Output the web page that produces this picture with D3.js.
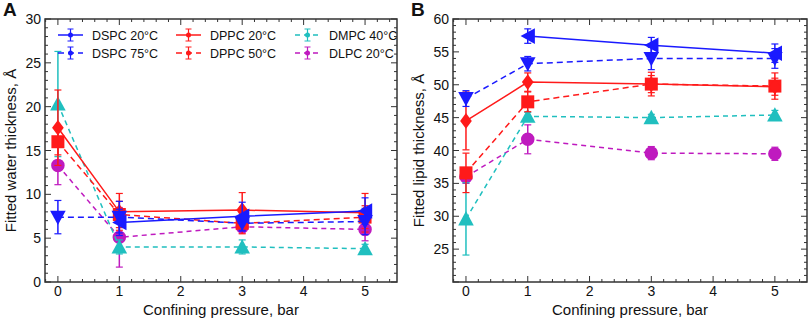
<!DOCTYPE html>
<html><head><meta charset="utf-8">
<script src="https://cdn.jsdelivr.net/npm/d3@7"></script>
<style>body{margin:0;background:#fff}svg{display:block;font-family:Arial,"Liberation Sans",sans-serif}</style>
</head><body><svg id="c" width="809" height="319"></svg>
<script>
const pressures = [0, 1, 3, 5];
const seriesNames = ["DSPC 20\u00B0C", "DSPC 75\u00B0C", "DPPC 20\u00B0C", "DPPC 50\u00B0C", "DMPC 40\u00B0C", "DLPC 20\u00B0C"];
// Panel A: fitted water thickness (Å)
const waterDSPC20 = [null, 6.8, 7.5, 8.1];
const waterDSPC75 = [7.4, 7.4, 6.7, 6.9];
const waterDPPC20 = [17.6, 8.0, 8.2, 7.9];
const waterDPPC50 = [16.0, 7.7, 6.7, 7.4];
const waterDMPC40 = [20.3, 4.0, 4.0, 3.8];
const waterDLPC20 = [13.3, 5.1, 6.3, 6.0];
const waterErrDSPC20 = [null, 1.5, 1.6, 1.5];
const waterErrDSPC75 = [1.9, 1.8, 0.9, 1.5];
const waterErrDPPC20 = [4.3, 2.1, 2.0, 2.2];
const waterErrDPPC50 = [1.5, 1.5, 1.2, 1.3];
const waterErrDMPC40 = [6.0, 0.8, 0.8, 0.5];
const waterErrDLPC20 = [2.2, 3.4, 0.7, 1.3];
// Panel B: fitted lipid thickness (Å)
const lipidDSPC20 = [null, 57.4, 56.0, 54.8];
const lipidDSPC75 = [47.9, 53.2, 54.0, 54.0];
const lipidDPPC20 = [44.5, 50.4, 50.1, 49.7];
const lipidDPPC50 = [36.6, 47.4, 50.1, 49.8];
const lipidDMPC40 = [29.6, 45.2, 45.0, 45.4];
const lipidDLPC20 = [36.0, 41.7, 39.6, 39.5];
const lipidErrDSPC20 = [null, 1.1, 1.2, 1.4];
const lipidErrDSPC75 = [1.2, 1.1, 1.7, 1.5];
const lipidErrDPPC20 = [4.4, 1.4, 1.3, 1.3];
const lipidErrDPPC50 = [3.0, 1.5, 1.8, 2.0];
const lipidErrDMPC40 = [5.5, 0.6, 0.5, 0.7];
const lipidErrDLPC20 = [1.0, 2.2, 1.0, 1.0];
const xTicks = [0, 1, 2, 3, 4, 5];
const yTicksA = [0, 5, 10, 15, 20, 25, 30];
const yTicksB = [25, 30, 35, 40, 45, 50, 55, 60];

const colors = ["#1a1aff", "#1a1aff", "#ff1a1a", "#ff1a1a", "#20bfbf", "#bf1abf"];
const dashes = [null, "6,4", null, "6,4", "5,4", "5,4"];
const symbolFns = [
  s => "M" + (-s*0.55) + ",0L" + (s*0.55) + "," + (-s*0.6) + "L" + (s*0.55) + "," + (s*0.6) + "Z",   // left triangle
  s => "M" + (-s*0.6) + "," + (-s*0.5) + "L" + (s*0.6) + "," + (-s*0.5) + "L0," + (s*0.6) + "Z",   // down triangle
  s => "M0," + (-s*0.6) + "L" + (s*0.45) + ",0L0," + (s*0.6) + "L" + (-s*0.45) + ",0Z",            // diamond
  s => "M" + (-s*0.5) + "," + (-s*0.5) + "h" + s + "v" + s + "h" + (-s) + "Z",                     // square
  s => "M0," + (-s*0.6) + "L" + (s*0.6) + "," + (s*0.5) + "L" + (-s*0.6) + "," + (s*0.5) + "Z",   // up triangle
  s => d3.symbol(d3.symbolCircle, s*s*0.85)()                                                   // circle
];

const svg = d3.select("#c");

function panel(o) {
  const x = d3.scaleLinear().domain([-0.21, 5.52]).range([o.left, o.right]);
  const y = d3.scaleLinear().domain(o.ydom).range([o.bottom, o.top]);
  const g = svg.append("g");
  g.append("rect").attr("x", o.left).attr("y", o.top).attr("width", o.right - o.left).attr("height", o.bottom - o.top)
    .attr("fill", "none").attr("stroke", "#333").attr("stroke-width", 1.5);
  const minor = d3.range(o.ydom[0], o.ydom[1] + 0.001, 1);
  minor.forEach(v => {
    const big = o.yTicks.includes(v) || v === o.ydom[0];
    g.append("line").attr("x1", o.left).attr("x2", o.left + (big ? 6 : 3)).attr("y1", y(v)).attr("y2", y(v)).attr("stroke", "#333");
    g.append("line").attr("x1", o.right).attr("x2", o.right - (big ? 6 : 3)).attr("y1", y(v)).attr("y2", y(v)).attr("stroke", "#333");
  });
  o.yTicks.forEach(v => {
    g.append("text").attr("x", o.left - 4).attr("y", y(v)).attr("dy", "0.36em").attr("text-anchor", "end")
      .attr("font-size", 14).attr("fill", "#111").text(v);
  });
  xTicks.forEach(v => {
    g.append("line").attr("x1", x(v)).attr("x2", x(v)).attr("y1", o.bottom).attr("y2", o.bottom - 6).attr("stroke", "#333");
    g.append("line").attr("x1", x(v)).attr("x2", x(v)).attr("y1", o.top).attr("y2", o.top + 6).attr("stroke", "#333");
    g.append("text").attr("x", x(v)).attr("y", o.bottom + 14).attr("text-anchor", "middle")
      .attr("font-size", 14).attr("fill", "#111").text(v);
  });
  d3.range(-0.2, 5.5, 0.2).forEach(v => {
    if (Math.abs(v - Math.round(v)) < 0.01) return;
    g.append("line").attr("x1", x(v)).attr("x2", x(v)).attr("y1", o.bottom).attr("y2", o.bottom - 3).attr("stroke", "#333");
    g.append("line").attr("x1", x(v)).attr("x2", x(v)).attr("y1", o.top).attr("y2", o.top + 3).attr("stroke", "#333");
  });
  g.append("text").attr("x", (o.left + o.right) / 2).attr("y", 315).attr("text-anchor", "middle")
    .attr("font-size", 15).attr("fill", "#111").text("Confining pressure, bar");
  g.append("text").attr("transform", `translate(${o.left - 29},${(o.top + o.bottom) / 2}) rotate(-90)`)
    .attr("text-anchor", "middle").attr("font-size", 15).attr("fill", "#111").text(o.ylabel);
  g.append("text").attr("x", o.left - 42).attr("y", 16).attr("font-size", 19).attr("font-weight", "bold").attr("fill", "#111").text(o.letter);

  const order = [5, 4, 3, 2, 1, 0];
  order.forEach(i => {
    const vals = o.values[i], errs = o.errs[i];
    const pts = pressures.map((p, k) => ({ p, v: vals[k], e: errs[k] })).filter(d => d.v !== null);
    const sg = g.append("g");
    sg.append("path").attr("d", d3.line().x(d => x(d.p)).y(d => y(d.v))(pts))
      .attr("fill", "none").attr("stroke", colors[i]).attr("stroke-width", 1.5).attr("stroke-dasharray", dashes[i]);
    pts.forEach(d => {
      const y1 = y(d.v - d.e), y2 = y(d.v + d.e), cx = x(d.p);
      sg.append("line").attr("x1", cx).attr("x2", cx).attr("y1", y1).attr("y2", y2).attr("stroke", colors[i]).attr("stroke-width", 1.5);
      [y1, y2].forEach(yy => sg.append("line").attr("x1", cx - 3.5).attr("x2", cx + 3.5).attr("y1", yy).attr("y2", yy)
        .attr("stroke", colors[i]).attr("stroke-width", 1.2));
      sg.append("path").attr("d", symbolFns[i](13)).attr("transform", `translate(${cx},${y(d.v)})`).attr("fill", colors[i]);
    });
  });
}

panel({ left: 45, right: 397, top: 19, bottom: 282, ydom: [0, 30], yTicks: yTicksA, letter: "A",
  ylabel: "Fitted water thickness, \u00C5",
  values: [waterDSPC20, waterDSPC75, waterDPPC20, waterDPPC50, waterDMPC40, waterDLPC20],
  errs: [waterErrDSPC20, waterErrDSPC75, waterErrDPPC20, waterErrDPPC50, waterErrDMPC40, waterErrDLPC20] });
panel({ left: 453, right: 807, top: 19, bottom: 282, ydom: [20, 60], yTicks: yTicksB, letter: "B",
  ylabel: "Fitted lipid thickness, \u00C5",
  values: [lipidDSPC20, lipidDSPC75, lipidDPPC20, lipidDPPC50, lipidDMPC40, lipidDLPC20],
  errs: [lipidErrDSPC20, lipidErrDSPC75, lipidErrDPPC20, lipidErrDPPC50, lipidErrDMPC40, lipidErrDLPC20] });

const legCols = [58, 176, 295], legRows = [35, 53];
seriesNames.forEach((name, i) => {
  const lx = legCols[Math.floor(i / 2)], ly = legRows[i % 2];
  const lg = svg.append("g");
  lg.append("line").attr("x1", lx).attr("x2", lx + 25).attr("y1", ly).attr("y2", ly)
    .attr("stroke", colors[i]).attr("stroke-width", 1.5).attr("stroke-dasharray", dashes[i]);
  const cx = lx + 12.5;
  lg.append("line").attr("x1", cx).attr("x2", cx).attr("y1", ly - 6).attr("y2", ly + 6).attr("stroke", colors[i]).attr("stroke-width", 1.2);
  [ly - 6, ly + 6].forEach(yy => lg.append("line").attr("x1", cx - 3).attr("x2", cx + 3).attr("y1", yy).attr("y2", yy).attr("stroke", colors[i]));
  lg.append("circle").attr("cx", cx).attr("cy", ly).attr("r", 2.5).attr("fill", colors[i]);
  lg.append("text").attr("x", lx + 34).attr("y", ly).attr("dy", "0.36em").attr("font-size", 12.5).attr("fill", "#111").text(name);
});
</script></body></html>
